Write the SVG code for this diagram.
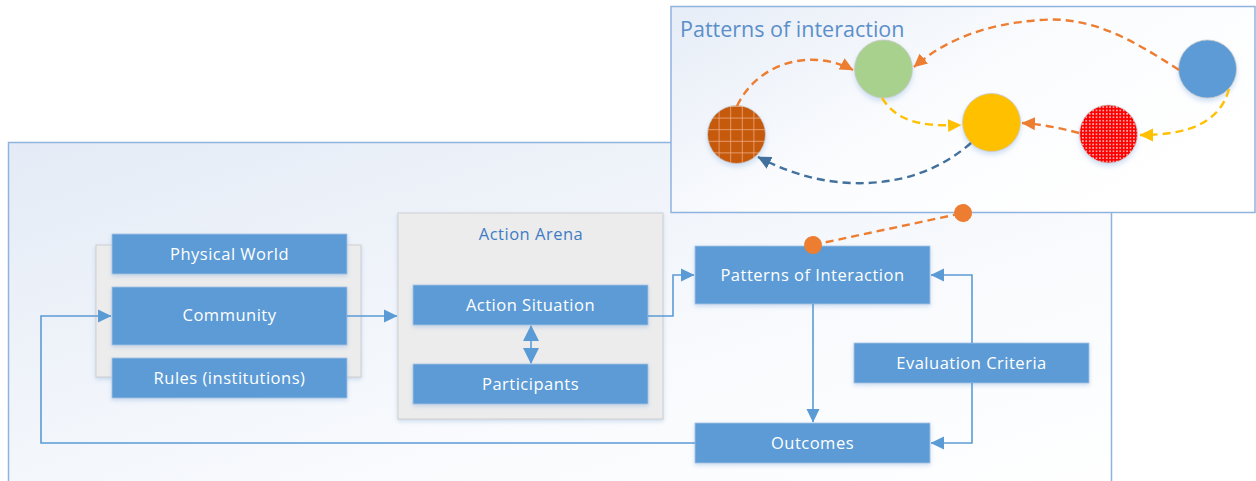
<svg xmlns="http://www.w3.org/2000/svg" width="1256" height="481" viewBox="0 0 1256 481">
  <defs>
    <linearGradient id="frameFill" x1="0" y1="0" x2="1" y2="1">
      <stop offset="0" stop-color="#e4ebf6"/>
      <stop offset="0.6" stop-color="#f8fafd"/>
      <stop offset="1" stop-color="#ffffff"/>
    </linearGradient>
    <linearGradient id="panelFill" x1="0" y1="0" x2="1" y2="0.6">
      <stop offset="0" stop-color="#e6edf7"/>
      <stop offset="0.55" stop-color="#fbfcfe"/>
      <stop offset="1" stop-color="#ffffff"/>
    </linearGradient>
    <pattern id="grid" width="11.6" height="11.6" patternUnits="userSpaceOnUse" x="707" y="106">
      <rect width="11.6" height="11.6" fill="#c55a11"/>
      <path d="M0 0H11.6M0 0V11.6" stroke="#f4b183" stroke-width="1.4" fill="none"/>
    </pattern>
    <pattern id="dots" width="3.4" height="3.4" patternUnits="userSpaceOnUse">
      <rect width="3.4" height="3.4" fill="#ff0000"/>
      <circle cx="1.7" cy="1.7" r="0.75" fill="#ffffff"/>
    </pattern>
    <filter id="shadow" x="-10%" y="-20%" width="120%" height="150%">
      <feGaussianBlur in="SourceAlpha" stdDeviation="2"/>
      <feOffset dx="0" dy="2" result="b"/>
      <feFlood flood-color="#9dbbe0" flood-opacity="0.5"/>
      <feComposite in2="b" operator="in"/>
      <feMerge><feMergeNode/><feMergeNode in="SourceGraphic"/></feMerge>
    </filter>
    <filter id="glow" x="-30%" y="-30%" width="160%" height="170%">
      <feGaussianBlur in="SourceAlpha" stdDeviation="2.5"/>
      <feOffset dx="0" dy="3" result="b"/>
      <feFlood flood-color="#bcd3ee" flood-opacity="0.7"/>
      <feComposite in2="b" operator="in"/>
      <feMerge><feMergeNode/><feMergeNode in="SourceGraphic"/></feMerge>
    </filter>
    <marker id="arrBlue" markerUnits="userSpaceOnUse" markerWidth="14" markerHeight="14" refX="13" refY="7" orient="auto">
      <path d="M0 0.5L13.5 7L0 13.5Z" fill="#5b9bd5"/>
    </marker>
    <marker id="arrBig" markerUnits="userSpaceOnUse" markerWidth="16" markerHeight="16" refX="15" refY="8" orient="auto-start-reverse">
      <path d="M0 0L16 8L0 16Z" fill="#5b9bd5"/>
    </marker>
    <marker id="arrOrange" markerUnits="userSpaceOnUse" markerWidth="14" markerHeight="14" refX="13" refY="7" orient="auto">
      <path d="M0 0.5L13.5 7L0 13.5Z" fill="#ed7d31"/>
    </marker>
    <marker id="arrYellow" markerUnits="userSpaceOnUse" markerWidth="14" markerHeight="14" refX="13" refY="7" orient="auto">
      <path d="M0 0.5L13.5 7L0 13.5Z" fill="#ffc000"/>
    </marker>
    <marker id="arrNavy" markerUnits="userSpaceOnUse" markerWidth="14" markerHeight="14" refX="13" refY="7" orient="auto">
      <path d="M0 0.5L13.5 7L0 13.5Z" fill="#41719c"/>
    </marker>
    <marker id="dotOrange" markerUnits="userSpaceOnUse" markerWidth="20" markerHeight="20" refX="10" refY="10" orient="auto">
      <circle cx="10" cy="10" r="9" fill="#ed7d31"/>
    </marker>
  </defs>
  <style>
    .frame { stroke: #8fb3df; stroke-width: 1.5; }
    .grey { fill: #ececec; stroke: #cfcfcf; stroke-width: 1; filter: url(#shadow); }
    .box { fill: #5b9bd5; stroke: #a9c4e4; stroke-width: 0.8; filter: url(#shadow); }
    .label { font-family: "Open Sans", "Liberation Sans", sans-serif; font-size: 16.5px; letter-spacing: 0.5px; fill: #ffffff; text-anchor: middle; }
    .head { font-family: "Open Sans", "Liberation Sans", sans-serif; font-size: 16.5px; letter-spacing: 0.5px; fill: #3e7cc4; text-anchor: middle; }
    .title { font-family: "Open Sans", "Liberation Sans", sans-serif; font-size: 21.5px; fill: #5b8fc9; }
    .wire { fill: none; stroke: #5b9bd5; stroke-width: 1.6; }
    .dash { fill: none; stroke-width: 2.4; stroke-dasharray: 8 5; }
    .bubble { stroke: #c9c9c9; stroke-width: 0.8; filter: url(#glow); }
  </style>

  <!-- outer frame of the framework -->
  <rect id="framework" class="frame" x="8.5" y="142.5" width="1103" height="360" fill="url(#frameFill)"/>

  <!-- inset panel: patterns of interaction -->
  <g id="patterns-panel">
    <rect class="frame" x="671" y="6.5" width="584" height="206" fill="url(#panelFill)"/>
    <text class="title" x="680" y="37">Patterns of interaction</text>
  </g>

  <g id="bubble-grid"><circle class="bubble" cx="736.5" cy="134.5" r="29" fill="url(#grid)"/></g>
  <g id="bubble-green"><circle class="bubble" cx="883.5" cy="69" r="29" fill="#a9d18e"/></g>
  <g id="bubble-yellow"><circle class="bubble" cx="991.5" cy="122.5" r="29" fill="#ffc000"/></g>
  <g id="bubble-red"><circle class="bubble" cx="1108.5" cy="134" r="29" fill="url(#dots)"/></g>
  <g id="bubble-blue"><circle class="bubble" cx="1207.5" cy="69" r="29" fill="#5b9bd5"/></g>

  <!-- left context group -->
  <g id="context">
    <rect class="grey" x="96" y="245" width="265" height="132"/>
  </g>
  <g id="physical-world">
    <rect class="box" x="112" y="234" width="235" height="40"/>
    <text class="label" x="229.5" y="260">Physical World</text>
  </g>
  <g id="community">
    <rect class="box" x="112" y="287" width="235" height="58"/>
    <text class="label" x="229.5" y="321">Community</text>
  </g>
  <g id="rules">
    <rect class="box" x="112" y="358" width="235" height="40"/>
    <text class="label" x="229.5" y="384">Rules (institutions)</text>
  </g>

  <!-- action arena -->
  <g id="action-arena">
    <rect class="grey" x="398" y="213" width="265" height="206"/>
    <text class="head" x="531" y="240">Action Arena</text>
  </g>
  <g id="action-situation">
    <rect class="box" x="413" y="285" width="235" height="40"/>
    <text class="label" x="530.5" y="311">Action Situation</text>
  </g>
  <g id="participants">
    <rect class="box" x="413" y="364" width="235" height="40"/>
    <text class="label" x="530.5" y="390">Participants</text>
  </g>

  <!-- right side -->
  <g id="patterns-of-interaction">
    <rect class="box" x="695" y="246" width="235" height="58"/>
    <text class="label" x="812.5" y="281">Patterns of Interaction</text>
  </g>
  <g id="evaluation-criteria">
    <rect class="box" x="854" y="343" width="235" height="40"/>
    <text class="label" x="971.5" y="369">Evaluation Criteria</text>
  </g>
  <g id="outcomes">
    <rect class="box" x="695" y="423" width="235" height="40"/>
    <text class="label" x="812.5" y="449">Outcomes</text>
  </g>

  <g id="connectors">
    <!-- framework flow -->
    <path class="wire" d="M347 316H397" marker-end="url(#arrBlue)"/>
    <path class="wire" d="M648 316H673V275H694" marker-end="url(#arrBlue)"/>
    <path class="wire" d="M531 326V363" marker-start="url(#arrBig)" marker-end="url(#arrBig)"/>
    <path class="wire" d="M813 304V422" marker-end="url(#arrBlue)"/>
    <path class="wire" d="M972 343V275H931" marker-end="url(#arrBlue)"/>
    <path class="wire" d="M972 383V443H931" marker-end="url(#arrBlue)"/>
    <path class="wire" d="M695 443H41V316H111" marker-end="url(#arrBlue)"/>
    <!-- link from the framework box to the inset panel -->
    <path class="dash" stroke="#ed7d31" d="M813 245L963 213" marker-start="url(#dotOrange)" marker-end="url(#dotOrange)"/>
    <!-- interaction paths between actors -->
    <path class="dash" stroke="#ed7d31" d="M737 106C758 62 812 48 853 70" marker-end="url(#arrOrange)"/>
    <path class="dash" stroke="#ed7d31" d="M1179 70C1130 38 1090 16 1040 20C985 24 945 40 914 67" marker-end="url(#arrOrange)"/>
    <path class="dash" stroke="#ffc000" d="M882 98C896 120 918 127 961 125" marker-end="url(#arrYellow)"/>
    <path class="dash" stroke="#ed7d31" d="M1079 133C1060 128 1040 124 1022 123" marker-end="url(#arrOrange)"/>
    <path class="dash" stroke="#ffc000" d="M1229 89C1220 122 1190 135 1140 135" marker-end="url(#arrYellow)"/>
    <path class="dash" stroke="#41719c" d="M971 143C940 170 900 185 850 183C810 181 782 169 758 157" marker-end="url(#arrNavy)"/>
  </g>
</svg>
